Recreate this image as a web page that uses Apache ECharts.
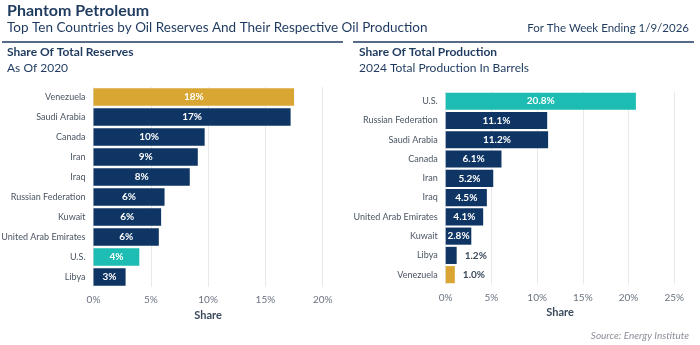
<!DOCTYPE html>
<html><head><meta charset="utf-8">
<script src="https://cdn.jsdelivr.net/npm/echarts@6/dist/echarts.min.js"></script>
<style>html,body{margin:0;padding:0;background:#fff}#c{width:700px;height:345px}</style>
</head><body><div id="c"></div>
<script>
const reserveCountries = ['Venezuela','Saudi Arabia','Canada','Iran','Iraq','Russian Federation','Kuwait','United Arab Emirates','U.S.','Libya'];
const reserveShare = [17.5, 17.2, 9.7, 9.1, 8.4, 6.2, 5.9, 5.7, 4.0, 2.8];
const productionCountries = ['U.S.','Russian Federation','Saudi Arabia','Canada','Iran','Iraq','United Arab Emirates','Kuwait','Libya','Venezuela'];
const productionShare = [20.8, 11.1, 11.2, 6.1, 5.2, 4.5, 4.1, 2.8, 1.2, 1.0];
const reserveTicks = [0, 5, 10, 15, 20];
const productionTicks = [0, 5, 10, 15, 20, 25];

const NAVY = '#0e3563', GOLD = '#d9a634', TEAL = '#1dbdb3', TXT = '#1e3a5f';
const FONT = 'Lato';
function colorFor(c){ return c==='Venezuela'?GOLD:(c==='U.S.'?TEAL:NAVY); }

function makeData(cats, vals, fmt){
  return vals.map((v,i)=>({
    value: v,
    itemStyle:{color: colorFor(cats[i])},
    label: v < 2 ? {show:true, position:'right', color:'#3a4a5c', formatter: fmt, distance:8}
                 : {show:true, position:'inside', color:'#fff', formatter: fmt}
  }));
}

const chart = echarts.init(document.getElementById('c'), null, {renderer:'canvas'});
const xCommon = {
  type:'value', interval:5,
  axisLine:{show:false}, axisTick:{show:false},
  splitLine:{lineStyle:{color:'#e6e9ee', width:1}},
  axisLabel:{color:'#6b7380', fontSize:10, fontFamily:FONT, formatter: v=>v+'%', margin:8},
  name:'Share', nameLocation:'middle',
  nameTextStyle:{color:'#3a4a5c', fontSize:11, fontWeight:'bold', fontFamily:FONT}
};
const yCommon = {
  type:'category', inverse:true,
  axisLine:{show:false}, axisTick:{show:false},
  axisLabel:{color:'#4a5563', fontSize:9, fontFamily:FONT, margin:8}
};
chart.setOption({
  animation:false,
  textStyle:{fontFamily:FONT},
  title:[
    {text:'Phantom Petroleum', left:2, top:-2, textStyle:{fontSize:16, fontWeight:'bold', color:TXT, fontFamily:FONT}},
    {text:'Top Ten Countries by Oil Reserves And Their Respective Oil Production', left:2, top:16, textStyle:{fontSize:13.5, fontWeight:'normal', color:TXT, fontFamily:FONT}},
    {text:'For The Week Ending 1/9/2026', right:6, top:17, textStyle:{fontSize:11.5, fontWeight:'normal', color:TXT, fontFamily:FONT}},
    {text:'Share Of Total Reserves', left:2, top:41, textStyle:{fontSize:12, fontWeight:'bold', color:TXT, fontFamily:FONT}},
    {text:'As Of 2020', left:2, top:57, textStyle:{fontSize:12, fontWeight:'normal', color:TXT, fontFamily:FONT}},
    {text:'Share Of Total Production', left:354, top:41, textStyle:{fontSize:12, fontWeight:'bold', color:TXT, fontFamily:FONT}},
    {text:'2024 Total Production In Barrels', left:354, top:57, textStyle:{fontSize:12, fontWeight:'normal', color:TXT, fontFamily:FONT}},
    {text:'Source: Energy Institute', right:6, top:326, textStyle:{fontSize:10, fontStyle:'italic', fontWeight:'normal', color:'#8a8f96', fontFamily:FONT}}
  ],
  graphic:[
    {type:'line', shape:{x1:2, y1:42, x2:343, y2:42}, style:{stroke:TXT, lineWidth:1.5}},
    {type:'line', shape:{x1:353, y1:42, x2:694, y2:42}, style:{stroke:TXT, lineWidth:1.5}}
  ],
  grid:[
    {left:93.5, width:229.2, top:87, height:200, outerBoundsMode:'none', containLabel:false},
    {left:445.7, width:228.6, top:91.6, height:192.7, outerBoundsMode:'none', containLabel:false}
  ],
  xAxis:[
    Object.assign({}, xCommon, {gridIndex:0, min:reserveTicks[0], max:reserveTicks[reserveTicks.length-1], nameGap:22}),
    Object.assign({}, xCommon, {gridIndex:1, min:productionTicks[0], max:productionTicks[productionTicks.length-1], nameGap:22})
  ],
  yAxis:[
    Object.assign({}, yCommon, {gridIndex:0, data:reserveCountries}),
    Object.assign({}, yCommon, {gridIndex:1, data:productionCountries})
  ],
  series:[
    {type:'bar', xAxisIndex:0, yAxisIndex:0, barCategoryGap:'12%',
     label:{fontSize:10, fontWeight:'bold', fontFamily:FONT},
     data: makeData(reserveCountries, reserveShare, p=>Math.round(p.value)+'%')},
    {type:'bar', xAxisIndex:1, yAxisIndex:1, barCategoryGap:'11%',
     label:{fontSize:10, fontWeight:'bold', fontFamily:FONT},
     data: makeData(productionCountries, productionShare, p=>p.value.toFixed(1)+'%')}
  ]
});
</script></body></html>
